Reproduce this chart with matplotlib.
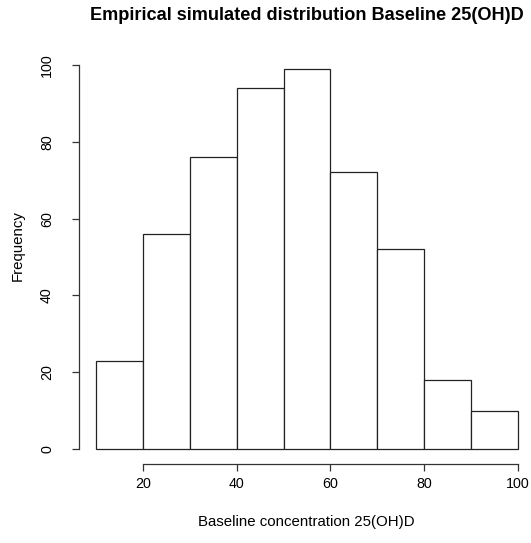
import matplotlib
matplotlib.use("Agg")
import matplotlib.pyplot as plt

plt.rcParams['font.family'] = ['Liberation Sans', 'DejaVu Sans']

# histogram bins and counts
BIN_EDGES = [10, 20, 30, 40, 50, 60, 70, 80, 90, 100]
COUNTS = [23, 56, 76, 94, 99, 72, 52, 18, 10]
X_TICKS = [20, 40, 60, 80, 100]
Y_TICKS = [0, 20, 40, 60, 80, 100]

W, H = 531, 543
fig = plt.figure(figsize=(W / 100, H / 100), dpi=100)
fig.patch.set_facecolor('white')

# plot region in pixels (left, top, right, bottom)
L, T, R, B = 79, 53.6, 535, 464.2
ax = fig.add_axes([L / W, 1 - B / H, (R - L) / W, (B - T) / H])

lefts = BIN_EDGES[:-1]
widths = [b - a for a, b in zip(BIN_EDGES[:-1], BIN_EDGES[1:])]
ax.bar(lefts, COUNTS, width=widths, align='edge', facecolor='white',
       edgecolor='#222222', linewidth=0.9)

ax.set_xlim(6.4, 103.6)
ax.set_ylim(-3.96, 102.96)

for s in ['top', 'right']:
    ax.spines[s].set_visible(False)
ax.spines['left'].set_bounds(0, 100)
ax.spines['bottom'].set_bounds(20, 100)
for s in ['left', 'bottom']:
    ax.spines[s].set_color('#333333')
    ax.spines[s].set_linewidth(0.9)

ax.set_xticks(X_TICKS)
ax.set_yticks(Y_TICKS)
ax.set_yticklabels([str(v) for v in Y_TICKS], rotation=90, va='center')
ax.tick_params(axis='both', length=5, width=0.9, color='#333333', labelsize=10.3)
ax.tick_params(axis='x', pad=4.3)
ax.tick_params(axis='y', pad=13)

fig.text(306.5 / W, 1 - 15 / H, 'Empirical simulated distribution Baseline 25(OH)D',
         ha='center', va='center', fontsize=13.1, fontweight='bold')
fig.text(306.5 / W, 1 - 522 / H, 'Baseline concentration 25(OH)D',
         ha='center', va='center', fontsize=10.8)
fig.text(18 / W, 1 - 246 / H, 'Frequency', ha='center', va='center',
         rotation=90, fontsize=10.8)

fig.savefig('out.png', dpi=100)
